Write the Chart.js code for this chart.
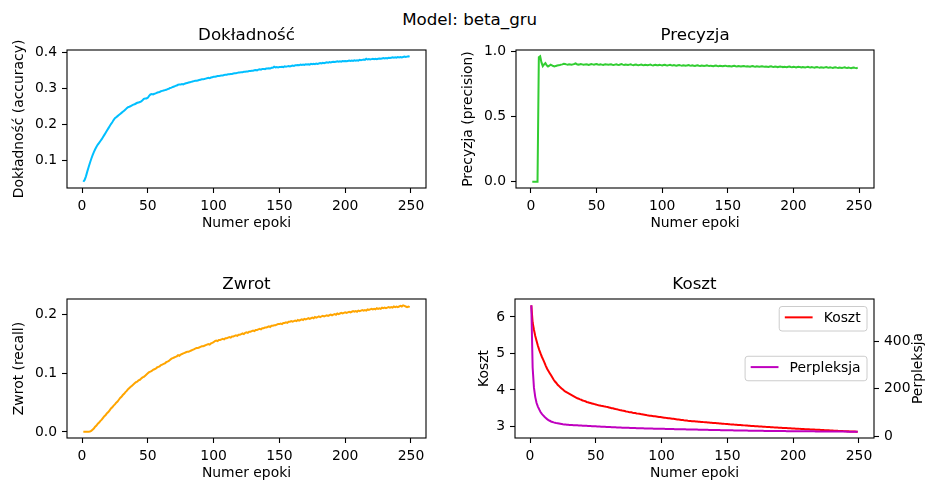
<!DOCTYPE html>
<html><head><meta charset="utf-8">
<script src="https://cdn.jsdelivr.net/npm/chart.js@4.4.0/dist/chart.umd.min.js"></script>
<style>
html,body{margin:0;padding:0;background:#fff;overflow:hidden;width:930px;height:484px}
canvas{position:absolute}
#sup{position:absolute;left:369.7px;width:200px;top:9.2px;text-align:center;font-family:'DejaVu Sans';font-size:16.7px;line-height:20px;color:#000;white-space:nowrap}
</style></head><body>
<div id="sup">Model: beta_gru</div>
<canvas id="c1" width="440" height="215" style="left:0px;top:25px"></canvas>
<canvas id="c2" width="470" height="215" style="left:450px;top:25px"></canvas>
<canvas id="c3" width="440" height="214" style="left:0px;top:270px"></canvas>
<canvas id="c4" width="480" height="214" style="left:450px;top:270px"></canvas>
<script>
const accuracy = [
0.042,0.047,0.057,0.070,0.082,0.094,0.105,0.115,0.124,0.132,
0.139,0.145,0.150,0.155,0.160,0.166,0.172,0.178,0.184,0.190,
0.196,0.202,0.207,0.213,0.218,0.221,0.224,0.227,0.230,0.233,
0.236,0.239,0.242,0.246,0.249,0.250,0.252,0.254,0.256,0.257,
0.259,0.261,0.262,0.263,0.265,0.268,0.272,0.273,0.273,0.275,
0.280,0.284,0.285,0.284,0.286,0.287,0.289,0.290,0.291,0.293,
0.294,0.295,0.296,0.297,0.299,0.300,0.302,0.303,0.305,0.306,
0.308,0.309,0.311,0.312,0.312,0.313,0.312,0.314,0.315,0.316,
0.317,0.318,0.319,0.320,0.321,0.322,0.322,0.323,0.324,0.325,
0.326,0.326,0.327,0.328,0.329,0.330,0.329,0.331,0.332,0.333,
0.333,0.334,0.335,0.335,0.336,0.337,0.337,0.338,0.339,0.339,
0.340,0.340,0.341,0.341,0.342,0.343,0.343,0.344,0.345,0.345,
0.346,0.346,0.347,0.347,0.348,0.348,0.349,0.349,0.350,0.350,
0.351,0.352,0.351,0.353,0.354,0.353,0.355,0.355,0.354,0.356,
0.356,0.357,0.356,0.358,0.358,0.361,0.359,0.360,0.359,0.360,
0.360,0.361,0.360,0.362,0.361,0.362,0.363,0.362,0.363,0.364,
0.363,0.365,0.365,0.366,0.365,0.367,0.366,0.367,0.366,0.368,
0.367,0.368,0.367,0.369,0.368,0.369,0.368,0.370,0.369,0.370,
0.371,0.370,0.372,0.371,0.372,0.373,0.372,0.374,0.373,0.374,
0.375,0.374,0.375,0.376,0.375,0.376,0.375,0.377,0.376,0.377,
0.376,0.377,0.378,0.377,0.378,0.377,0.379,0.378,0.379,0.378,
0.380,0.379,0.380,0.381,0.380,0.383,0.381,0.382,0.381,0.382,
0.383,0.382,0.383,0.382,0.383,0.384,0.383,0.384,0.385,0.384,
0.385,0.384,0.386,0.385,0.386,0.387,0.386,0.387,0.386,0.388,
0.387,0.388,0.387,0.388,0.389,0.388,0.389,0.390,0.389];

const precision = [
0,0,0,0,0,0.955,0.962,0.915,0.886,0.900,
0.910,0.893,0.884,0.890,0.898,0.893,0.887,0.884,0.888,0.891,
0.893,0.895,0.898,0.900,0.905,0.903,0.900,0.898,0.901,0.899,
0.897,0.900,0.903,0.907,0.901,0.898,0.899,0.902,0.900,0.897,
0.898,0.901,0.899,0.896,0.899,0.902,0.900,0.898,0.901,0.903,
0.899,0.897,0.900,0.898,0.896,0.899,0.901,0.898,0.897,0.899,
0.900,0.897,0.895,0.898,0.900,0.897,0.896,0.899,0.902,0.898,
0.896,0.898,0.897,0.895,0.898,0.900,0.896,0.894,0.897,0.898,
0.895,0.893,0.896,0.898,0.895,0.894,0.897,0.895,0.893,0.896,
0.898,0.894,0.892,0.895,0.897,0.894,0.893,0.896,0.894,0.892,
0.895,0.897,0.893,0.891,0.894,0.896,0.893,0.891,0.894,0.892,
0.890,0.893,0.895,0.892,0.890,0.893,0.891,0.889,0.892,0.894,
0.891,0.889,0.892,0.890,0.888,0.891,0.893,0.890,0.888,0.891,
0.889,0.887,0.890,0.892,0.889,0.887,0.890,0.888,0.886,0.889,
0.891,0.888,0.886,0.889,0.887,0.885,0.888,0.890,0.887,0.885,
0.888,0.886,0.884,0.887,0.889,0.886,0.884,0.887,0.885,0.883,
0.886,0.888,0.885,0.883,0.886,0.884,0.882,0.885,0.887,0.884,
0.882,0.885,0.883,0.881,0.884,0.886,0.883,0.881,0.884,0.882,
0.880,0.883,0.885,0.882,0.880,0.883,0.881,0.879,0.882,0.884,
0.881,0.879,0.882,0.880,0.878,0.881,0.883,0.880,0.878,0.881,
0.879,0.877,0.880,0.882,0.879,0.877,0.880,0.878,0.876,0.879,
0.881,0.878,0.876,0.879,0.877,0.875,0.878,0.880,0.877,0.875,
0.878,0.876,0.874,0.877,0.879,0.876,0.874,0.877,0.875,0.873,
0.876,0.878,0.875,0.873,0.876,0.874,0.872,0.875,0.877,0.874,
0.872,0.875,0.873,0.871,0.874,0.876,0.873,0.871,0.875];

const recall = [
0.0005,0.0005,0.0005,0.0005,0.0005,0.0008,0.002,0.004,0.006,0.009,
0.011,0.014,0.016,0.019,0.021,0.024,0.027,0.029,0.032,0.034,
0.037,0.040,0.042,0.045,0.047,0.050,0.052,0.055,0.058,0.060,
0.063,0.065,0.068,0.070,0.073,0.075,0.077,0.079,0.081,0.083,
0.085,0.086,0.088,0.089,0.091,0.093,0.094,0.096,0.098,0.100,
0.102,0.103,0.104,0.106,0.107,0.108,0.110,0.111,0.112,0.114,
0.115,0.116,0.117,0.119,0.120,0.121,0.123,0.125,0.126,0.127,
0.128,0.129,0.131,0.130,0.132,0.133,0.134,0.135,0.136,0.137,
0.137,0.138,0.139,0.140,0.141,0.142,0.143,0.143,0.144,0.145,
0.146,0.146,0.147,0.148,0.149,0.150,0.149,0.151,0.152,0.153,
0.155,0.156,0.155,0.157,0.157,0.158,0.159,0.158,0.160,0.160,
0.161,0.162,0.161,0.163,0.163,0.164,0.165,0.164,0.166,0.166,
0.167,0.168,0.167,0.169,0.170,0.169,0.171,0.171,0.172,0.173,
0.172,0.174,0.174,0.175,0.176,0.175,0.177,0.177,0.178,0.178,
0.179,0.180,0.179,0.181,0.181,0.182,0.182,0.183,0.184,0.184,
0.185,0.184,0.186,0.186,0.187,0.186,0.188,0.188,0.189,0.188,
0.189,0.190,0.189,0.191,0.190,0.191,0.192,0.191,0.193,0.192,
0.193,0.194,0.193,0.194,0.195,0.194,0.196,0.195,0.196,0.197,
0.196,0.197,0.198,0.197,0.198,0.199,0.198,0.199,0.200,0.199,
0.200,0.201,0.200,0.202,0.201,0.202,0.203,0.202,0.203,0.204,
0.203,0.204,0.205,0.204,0.205,0.206,0.205,0.206,0.205,0.207,
0.206,0.207,0.208,0.207,0.208,0.207,0.209,0.208,0.209,0.210,
0.209,0.210,0.209,0.211,0.210,0.211,0.210,0.212,0.211,0.212,
0.211,0.212,0.213,0.212,0.213,0.212,0.214,0.213,0.214,0.213,
0.214,0.215,0.214,0.216,0.215,0.214,0.213,0.214,0.213];

const cost = [
6.32,5.85,5.65,5.48,5.34,5.21,5.10,5.00,4.91,4.83,
4.75,4.66,4.58,4.52,4.46,4.40,4.34,4.28,4.23,4.19,
4.14,4.11,4.07,4.04,4.01,3.98,3.95,3.93,3.91,3.89,
3.87,3.85,3.83,3.81,3.79,3.77,3.76,3.74,3.73,3.71,
3.70,3.69,3.67,3.66,3.65,3.64,3.63,3.62,3.61,3.60,
3.59,3.58,3.575,3.565,3.56,3.55,3.545,3.535,3.53,3.52,
3.51,3.50,3.495,3.485,3.475,3.47,3.46,3.45,3.445,3.435,
3.43,3.42,3.41,3.405,3.395,3.39,3.385,3.375,3.37,3.365,
3.355,3.35,3.345,3.34,3.33,3.325,3.32,3.315,3.305,3.30,
3.295,3.29,3.285,3.28,3.275,3.27,3.265,3.26,3.255,3.25,
3.245,3.240,3.235,3.231,3.226,3.221,3.216,3.211,3.207,3.202,
3.197,3.192,3.188,3.183,3.178,3.173,3.168,3.164,3.159,3.154,
3.150,3.147,3.144,3.141,3.138,3.135,3.132,3.129,3.126,3.123,
3.120,3.117,3.114,3.111,3.108,3.105,3.102,3.099,3.096,3.093,
3.090,3.087,3.084,3.081,3.078,3.075,3.072,3.069,3.066,3.063,
3.060,3.057,3.055,3.052,3.049,3.047,3.044,3.041,3.038,3.036,
3.033,3.030,3.028,3.025,3.022,3.019,3.017,3.014,3.011,3.009,
3.006,3.003,3.001,2.998,2.996,2.994,2.992,2.990,2.987,2.985,
2.983,2.981,2.979,2.977,2.974,2.972,2.970,2.968,2.966,2.964,
2.962,2.959,2.957,2.955,2.953,2.951,2.949,2.947,2.944,2.942,
2.940,2.938,2.936,2.934,2.932,2.931,2.929,2.927,2.925,2.923,
2.921,2.919,2.917,2.916,2.914,2.912,2.910,2.908,2.906,2.905,
2.903,2.901,2.899,2.897,2.895,2.893,2.891,2.889,2.888,2.886,
2.884,2.882,2.880,2.878,2.877,2.875,2.873,2.871,2.870,2.868,
2.866,2.865,2.863,2.862,2.860,2.859,2.858,2.856,2.855];

const perplexity = [
553,290,205,165,140,125,113,102,94,88,
82,77,72,68,65,62,60,58,56.5,55,
54,53,52,51,50,49.5,49,48.5,48,47.5,
47,46.7,46.4,46.1,45.8,45.5,45.2,44.9,44.6,44.3,
44.0,43.7,43.4,43.1,42.8,42.5,42.2,41.9,41.6,41.3,
41.0,40.7,40.4,40.1,39.8,39.5,39.2,38.9,38.6,38.4,
38.1,37.9,37.6,37.4,37.1,36.9,36.6,36.4,36.2,35.9,
35.7,35.5,35.3,35.1,34.9,34.7,34.5,34.3,34.1,33.9,
33.7,33.5,33.4,33.2,33.0,32.9,32.7,32.6,32.4,32.3,
32.1,32.0,31.9,31.7,31.6,31.5,31.3,31.2,31.1,31.0,
30.8,30.7,30.6,30.4,30.3,30.2,30.0,29.9,29.8,29.6,
29.5,29.4,29.2,29.1,29.0,28.9,28.7,28.6,28.5,28.4,
28.2,28.1,28.0,27.9,27.7,27.6,27.5,27.4,27.2,27.1,
27.0,26.9,26.8,26.6,26.5,26.4,26.3,26.2,26.0,25.9,
25.8,25.7,25.6,25.5,25.3,25.2,25.1,25.0,24.9,24.8,
24.7,24.6,24.5,24.4,24.3,24.2,24.1,24.0,23.9,23.8,
23.7,23.6,23.5,23.4,23.3,23.2,23.1,23.0,22.9,22.8,
22.8,22.7,22.6,22.5,22.4,22.4,22.3,22.2,22.1,22.1,
22.0,21.9,21.9,21.8,21.7,21.7,21.6,21.5,21.5,21.4,
21.4,21.3,21.3,21.2,21.1,21.1,21.0,21.0,20.9,20.9,
20.8,20.8,20.7,20.7,20.6,20.6,20.5,20.5,20.4,20.4,
20.3,20.3,20.2,20.2,20.1,20.1,20.0,20.0,19.9,19.9,
19.8,19.8,19.8,19.7,19.7,19.6,19.6,19.6,19.5,19.5,
19.4,19.4,19.4,19.3,19.3,19.2,19.2,19.2,19.1,19.1,
19.0,19.0,19.0,18.9,18.9,18.9,18.8,18.8,18.8];

const epochs = accuracy.map((_, i) => i + 1);

const xTicks = [0, 50, 100, 150, 200, 250];
const accTicks = [0.1, 0.2, 0.3, 0.4];
const precTicks = [0.0, 0.5, 1.0];
const recTicks = [0.0, 0.1, 0.2];
const costTicks = [3, 4, 5, 6];
const perpTicks = [0, 200, 400];

const xLabel = 'Numer epoki';
const perpAxisLabel = 'Perpleksja';

const FONT = 'DejaVu Sans';
const FS = 13.9;

function bounds(arr) {
  const mn = Math.min(...arr), mx = Math.max(...arr), m = (mx - mn) * 0.05;
  return { min: mn - m, max: mx + m };
}
function pts(ys) { return ys.map((y, i) => ({ x: epochs[i], y })); }

const frame = {
  id: 'frame',
  afterDraw(chart) {
    const a = chart.chartArea, c = chart.ctx;
    c.save(); c.strokeStyle = '#000'; c.lineWidth = 1.1;
    c.strokeRect(a.left, a.top, a.right - a.left, a.bottom - a.top);
    c.restore();
  }
};

function gridOpts() {
  return { drawOnChartArea: false, drawTicks: true, tickLength: 5, tickColor: '#000', tickWidth: 1.1 };
}
function xScale(height, titlePadBottom) {
  const b = bounds(epochs);
  return {
    type: 'linear', bounds: 'data', min: b.min, max: b.max,
    afterBuildTicks: s => { s.ticks = xTicks.map(v => ({ value: v })); },
    ticks: { color: '#000', font: { family: FONT, size: FS }, padding: 5, maxRotation: 0, autoSkip: false, callback: v => String(v) },
    grid: gridOpts(), border: { display: false },
    title: { display: true, text: xLabel, color: '#000', font: { family: FONT, size: FS }, padding: { top: 0, bottom: titlePadBottom } },
    afterFit: s => { s.height = height; }
  };
}
function yScale(data, tickVals, fmt, width, label, titlePadTop, position) {
  const b = bounds(data);
  return {
    type: 'linear', bounds: 'data', min: b.min, max: b.max, position: position || 'left',
    afterBuildTicks: s => { s.ticks = tickVals.map(v => ({ value: v })); },
    ticks: { color: '#000', font: { family: FONT, size: FS }, padding: 5, autoSkip: false, callback: fmt },
    grid: gridOpts(), border: { display: false },
    title: { display: !!label, text: label || '', color: '#000', font: { family: FONT, size: FS }, padding: { top: titlePadTop, bottom: 0 } },
    afterFit: s => { s.width = width; }
  };
}
function titleOpts(text, pt, pb) {
  return { display: true, text, color: '#000', fullSize: false,
    font: { family: FONT, size: 16.7, weight: 'normal', lineHeight: '20px' },
    padding: { top: pt, bottom: pb } };
}
function lineDs(label, data, color, axis, order) {
  return { label, data: pts(data), borderColor: color, backgroundColor: color, borderWidth: 2,
    pointRadius: 0, fill: false, tension: 0, yAxisID: axis || 'y', order: order || 0 };
}
const common = {
  responsive: false, animation: false, events: [],
};

new Chart(document.getElementById('c1'), {
  type: 'line',
  data: { datasets: [lineDs('Dokładność', accuracy, '#00bfff')] },
  options: Object.assign({}, common, {
    layout: { padding: { left: 0, top: 0, right: 14, bottom: 0 } },
    plugins: { legend: { display: false }, tooltip: { enabled: false }, title: titleOpts('Dokładność', 0.9, 4.1) },
    scales: { x: xScale(52, 8.5), y: yScale(accuracy, accTicks, v => v.toFixed(1), 67, 'Dokładność (accuracy)', 11) }
  }),
  plugins: [frame]
});

new Chart(document.getElementById('c2'), {
  type: 'line',
  data: { datasets: [lineDs('Precyzja', precision, '#32cd32')] },
  options: Object.assign({}, common, {
    layout: { padding: { left: 0, top: 0, right: 46, bottom: 0 } },
    plugins: { legend: { display: false }, tooltip: { enabled: false }, title: titleOpts('Precyzja', 0.9, 4.1) },
    scales: { x: xScale(52, 8.5), y: yScale(precision, precTicks, v => v.toFixed(1), 66, 'Precyzja (precision)', 10) }
  }),
  plugins: [frame]
});

new Chart(document.getElementById('c3'), {
  type: 'line',
  data: { datasets: [lineDs('Zwrot', recall, '#ffa500')] },
  options: Object.assign({}, common, {
    layout: { padding: { left: 0, top: 0, right: 14, bottom: 0 } },
    plugins: { legend: { display: false }, tooltip: { enabled: false }, title: titleOpts('Zwrot', 4.9, 4.1) },
    scales: { x: xScale(46, 2.2), y: yScale(recall, recTicks, v => v.toFixed(1), 67, 'Zwrot (recall)', 11.2) }
  }),
  plugins: [frame]
});

const legendBoxes = {
  id: 'legendBoxes',
  afterDraw(chart) {
    const a = chart.chartArea, c = chart.ctx, ds = chart.data.datasets;
    const h = 24.5;
    const items = [
      { d: ds[0], top: a.top + 7.5 },
      { d: ds[1], top: (a.top + a.bottom) / 2 - h / 2 }
    ];
    c.save();
    c.font = FS + 'px "' + FONT + '"';
    items.forEach(it => {
      const tw = c.measureText(it.d.label).width;
      const w = 5.6 + 27.8 + 11.1 + tw + 6.4;
      const x = a.right - 7 - w, y = it.top, r = 2.8;
      c.beginPath();
      c.moveTo(x + r, y); c.lineTo(x + w - r, y); c.arcTo(x + w, y, x + w, y + r, r);
      c.lineTo(x + w, y + h - r); c.arcTo(x + w, y + h, x + w - r, y + h, r);
      c.lineTo(x + r, y + h); c.arcTo(x, y + h, x, y + h - r, r);
      c.lineTo(x, y + r); c.arcTo(x, y, x + r, y, r); c.closePath();
      c.fillStyle = 'rgba(255,255,255,0.8)'; c.fill();
      c.strokeStyle = '#cccccc'; c.lineWidth = 1; c.stroke();
      const cy = y + h / 2;
      c.beginPath(); c.moveTo(x + 5.6, cy - 1.4); c.lineTo(x + 5.6 + 27.8, cy - 1.4);
      c.strokeStyle = it.d.borderColor; c.lineWidth = 2; c.stroke();
      c.fillStyle = '#000'; c.textBaseline = 'alphabetic'; c.textAlign = 'left';
      c.fillText(it.d.label, x + 5.6 + 27.8 + 11.1, cy + 3.5);
    });
    c.restore();
  }
};
const rightTitle = {
  id: 'rightTitle',
  afterDraw(chart) {
    const s = chart.scales.y1, a = chart.chartArea, c = chart.ctx;
    c.save();
    c.translate(s.right - 11.2, (a.top + a.bottom) / 2);
    c.rotate(-Math.PI / 2);
    c.font = FS + 'px "' + FONT + '"';
    c.fillStyle = '#000'; c.textAlign = 'center'; c.textBaseline = 'middle';
    c.fillText(perpAxisLabel, 0, 0);
    c.restore();
  }
};

new Chart(document.getElementById('c4'), {
  type: 'line',
  data: { datasets: [
    lineDs('Koszt', cost, '#ff0000', 'y', 1),
    lineDs('Perpleksja', perplexity, '#bf00bf', 'y1', 0)
  ] },
  options: Object.assign({}, common, {
    layout: { padding: { left: 0, top: 0, right: 0, bottom: 0 } },
    plugins: { legend: { display: false }, tooltip: { enabled: false }, title: titleOpts('Koszt', 4.9, 4.1) },
    scales: {
      x: xScale(46, 2.2),
      y: yScale(cost, costTicks, v => String(v), 65, 'Koszt', 25.7, 'left'),
      y1: yScale(perplexity, perpTicks, v => String(v), 56, '', 0, 'right')
    }
  }),
  plugins: [frame, legendBoxes, rightTitle]
});
</script>
</body></html>
